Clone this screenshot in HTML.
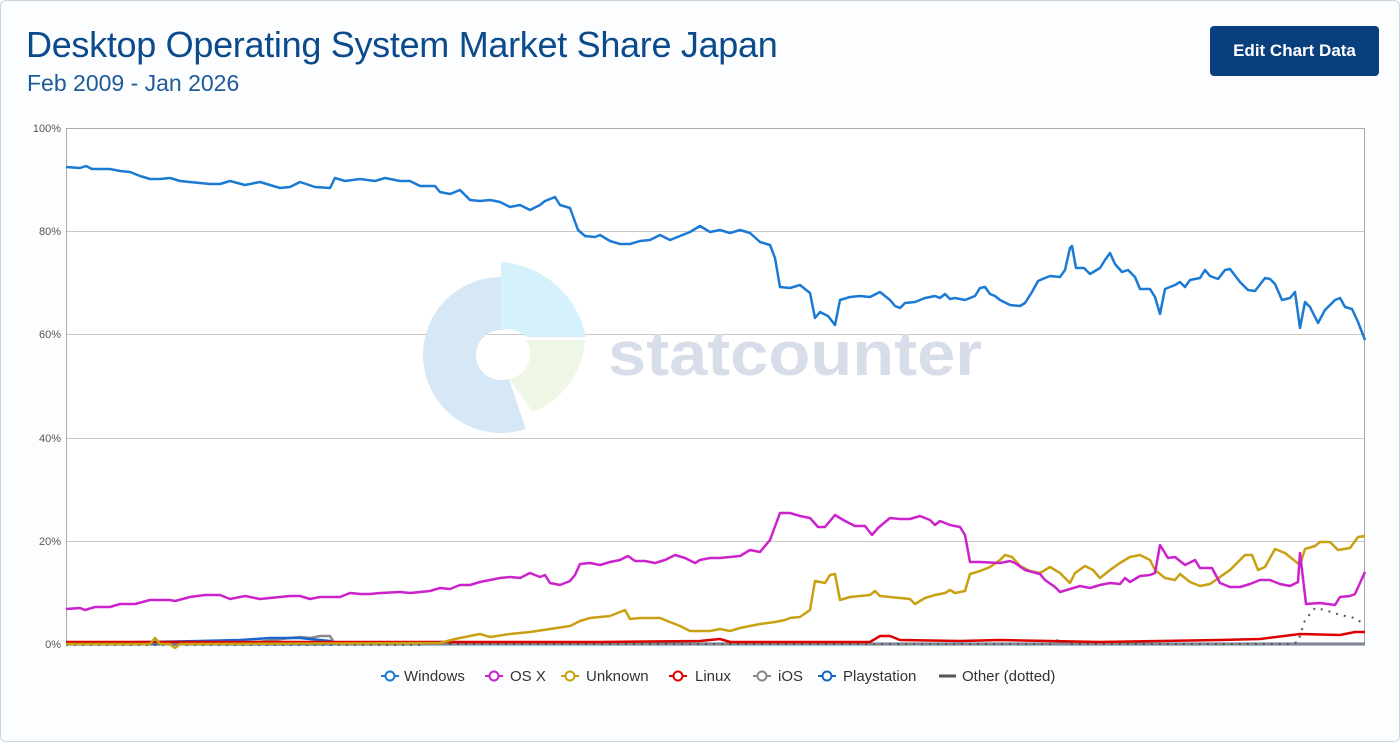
<!DOCTYPE html>
<html><head><meta charset="utf-8"><style>
html,body{margin:0;padding:0;background:#fff;}
body{width:1400px;height:713px;overflow:hidden;position:relative;font-family:"Liberation Sans",sans-serif;}
.frame{position:absolute;left:0;top:0;width:1398px;height:740px;border:1px solid #c9d3df;border-radius:6px;background:#fcfdfe;}
h1{position:absolute;left:26px;top:24px;margin:0;font-weight:normal;font-size:36px;color:#0b4a8b;letter-spacing:-0.3px;}
.sub{position:absolute;left:27px;top:70px;font-size:23px;color:#1f5a99;}
.btn{position:absolute;left:1210px;top:26px;width:169px;height:50px;background:#0a3f7e;color:#fff;border-radius:4px;font-size:17px;font-weight:bold;text-align:center;line-height:50px;}
</style></head><body>
<div class="frame"></div>
<h1>Desktop Operating System Market Share Japan</h1>
<div class="sub">Feb 2009 - Jan 2026</div>
<div class="btn">Edit Chart Data</div>
<svg width="1400" height="713" style="position:absolute;left:0;top:0" font-family="Liberation Sans, sans-serif">
<rect x="66" y="128" width="1299" height="516" fill="#fff"/>
<g stroke="#c8c8c8" stroke-width="1">
<line x1="66" y1="231.5" x2="1365" y2="231.5"/><line x1="66" y1="334.5" x2="1365" y2="334.5"/>
<line x1="66" y1="438.5" x2="1365" y2="438.5"/><line x1="66" y1="541.5" x2="1365" y2="541.5"/>
</g>
<rect x="66.5" y="128.5" width="1298" height="516" fill="none" stroke="#aaa"/>
<g font-size="11" fill="#555" text-anchor="end">
<text x="61" y="132">100%</text><text x="61" y="235">80%</text><text x="61" y="338">60%</text><text x="61" y="442">40%</text><text x="61" y="545">20%</text><text x="61" y="648">0%</text>
</g>
<!-- watermark -->
<g>
<path d="M525.7,429 A78,78 0 1 1 501,277 L501,330 A25,25 0 1 0 508.9,378.7 Z" fill="#d6e7f6"/>
<path d="M501,262 A93,93 0 0 1 586,337 L526,337 A25,25 0 0 0 501,330 Z" fill="#d5f1fb"/>
<path d="M526,340 L585,340 A84,84 0 0 1 533,412 L508.9,378.7 A25,25 0 0 0 526,340Z" fill="#eef6e6"/>
<text x="608" y="375" font-size="62" font-weight="bold" fill="#d7dde9" textLength="374" lengthAdjust="spacingAndGlyphs">statcounter</text>
</g>
<g fill="none" stroke-width="2.5" stroke-linejoin="round">
<polyline points="66,644 1365,644" style="stroke:#1565c0" stroke-width="3"/>
<polyline stroke="#888" points="66,643 250,643 290,638 300,637 310,638 320,636 330,636 335,644 1365,644"/>
<polyline stroke="#555" stroke-width="2" stroke-dasharray="2,6" points="66,645 420,645 440,641 450,644 1050,644 1060,639 1070,644 1290,644 1298,642 1305,620 1315,608 1325,610 1340,615 1355,618 1365,625"/>
<polyline stroke="#1a66cc" points="66,643 150,642 200,641 240,640 270,638 300,638 330,641 335,644"/>
<polyline stroke="#d00" points="66,642 600,642 700,641 720,639 730,642 870,642 880,636 890,636 900,640 960,641 1000,640 1050,641 1100,642 1160,641 1220,640 1260,639 1300,634 1340,635 1355,632 1365,632"/>
<polyline stroke="#c9a012" points="66,644 150,644 155,638 160,644 170,644 175,648 180,644 440,643 455,639 470,636 480,634 490,637 510,634 530,632 550,629 570,626 580,621 590,618 610,616 620,612 625,610 630,619 640,618 660,618 670,622 680,626 690,631 710,631 720,629 730,631 740,628 760,624 775,622 785,620 790,618 800,617 810,610 815,581 825,583 830,575 835,574 840,600 850,597 860,596 870,595 875,591 880,596 890,597 900,598 910,599 915,604 925,598 935,595 945,593 950,590 955,593 965,591 970,574 980,571 990,567 1000,560 1005,555 1012,557 1020,566 1030,571 1040,573 1050,567 1060,573 1070,583 1075,573 1085,566 1093,570 1100,578 1110,570 1120,563 1130,557 1140,555 1150,560 1155,570 1165,578 1175,580 1180,574 1190,582 1200,586 1210,584 1220,577 1230,570 1245,555 1252,555 1258,570 1265,567 1275,549 1285,553 1300,565 1305,549 1315,546 1320,542 1330,542 1338,550 1350,548 1358,537 1365,536"/>
<polyline stroke="#cc22cc" points="66,609 80,608 85,610 95,607 110,607 120,604 135,604 150,600 170,600 175,601 190,597 205,595 220,595 230,599 245,596 260,599 270,598 280,597 290,596 300,596 310,599 320,597 340,597 350,593 360,594 370,594 380,593 400,592 410,593 420,592 430,591 440,588 450,589 460,585 470,585 480,582 490,580 500,578 510,577 520,578 530,573 540,577 545,575 550,583 560,585 570,581 575,575 580,564 590,563 600,565 610,562 620,560 628,556 635,561 645,561 655,563 665,560 675,555 685,558 695,563 700,560 710,558 720,558 740,556 750,550 760,552 770,540 780,513 790,513 800,516 810,518 818,527 825,527 835,515 845,521 855,526 865,526 872,535 878,528 890,518 900,519 910,519 920,516 930,520 935,525 940,521 950,525 960,527 965,535 970,562 980,562 1000,563 1010,561 1015,563 1025,570 1040,574 1045,580 1055,587 1060,592 1070,589 1080,586 1090,588 1100,585 1110,583 1120,584 1125,578 1130,582 1140,576 1150,575 1155,573 1160,545 1168,558 1175,557 1185,565 1195,560 1200,568 1212,568 1220,583 1230,587 1240,587 1250,584 1260,580 1270,580 1280,584 1290,586 1298,582 1300,553 1306,604 1320,603 1335,605 1340,597 1350,596 1355,594 1365,572"/>
<polyline stroke="#1a7ad4" points="66,167 80,168 86,166 92,169 110,169 120,171 130,172 140,176 150,179 160,179 170,178 180,181 190,182 200,183 210,184 220,184 230,181 245,185 260,182 270,185 280,188 290,187 300,182 315,187 330,188 335,178 345,181 360,179 375,181 385,178 400,181 410,181 420,186 435,186 440,192 450,194 460,190 470,200 480,201 490,200 500,202 510,207 520,205 530,210 540,205 545,201 555,197 560,205 570,208 578,230 585,236 595,237 600,235 610,241 620,244 630,244 640,241 650,240 660,235 670,240 680,236 690,232 700,226 710,232 720,230 730,233 740,230 750,233 760,242 770,245 775,258 780,287 790,288 800,285 810,293 815,318 820,312 828,316 835,325 840,300 850,297 860,296 870,297 880,292 890,300 895,306 900,308 905,303 915,302 925,298 935,296 940,298 945,294 950,299 955,298 965,300 975,296 980,288 985,287 990,294 995,296 1000,300 1010,305 1020,306 1025,303 1032,292 1038,281 1045,278 1050,276 1060,277 1065,270 1070,248 1072,246 1076,268 1084,268 1090,274 1100,268 1105,260 1110,253 1115,264 1122,272 1128,270 1135,277 1140,289 1150,289 1155,297 1160,314 1165,289 1175,285 1180,282 1185,287 1190,280 1200,278 1205,270 1210,276 1218,279 1225,270 1230,269 1240,282 1248,290 1255,291 1265,278 1270,279 1275,284 1282,300 1290,298 1295,292 1300,328 1305,302 1310,307 1318,323 1325,310 1335,300 1340,298 1345,307 1352,309 1358,322 1365,340"/>
</g>
<!-- legend -->
<g font-size="15" fill="#333" stroke-width="2">
<line x1="381" y1="676" x2="399" y2="676" stroke="#1a7ad4"/><circle cx="390" cy="676" r="4.5" fill="#fff" stroke="#1a7ad4"/><text x="404" y="681" stroke="none">Windows</text>
<line x1="485" y1="676" x2="503" y2="676" stroke="#cc22cc"/><circle cx="494" cy="676" r="4.5" fill="#fff" stroke="#cc22cc"/><text x="510" y="681" stroke="none">OS X</text>
<line x1="561" y1="676" x2="579" y2="676" stroke="#c9a012"/><circle cx="570" cy="676" r="4.5" fill="#fff" stroke="#c9a012"/><text x="586" y="681" stroke="none">Unknown</text>
<line x1="669" y1="676" x2="687" y2="676" stroke="#d00"/><circle cx="678" cy="676" r="4.5" fill="#fff" stroke="#d00"/><text x="695" y="681" stroke="none">Linux</text>
<line x1="753" y1="676" x2="771" y2="676" stroke="#888"/><circle cx="762" cy="676" r="4.5" fill="#fff" stroke="#888"/><text x="778" y="681" stroke="none">iOS</text>
<line x1="818" y1="676" x2="836" y2="676" stroke="#1565c0"/><circle cx="827" cy="676" r="4.5" fill="#fff" stroke="#1565c0"/><text x="843" y="681" stroke="none">Playstation</text>
<line x1="939" y1="676" x2="956" y2="676" stroke="#555" stroke-width="3"/><text x="962" y="681" stroke="none">Other (dotted)</text>
</g>
</svg>
</body></html>
